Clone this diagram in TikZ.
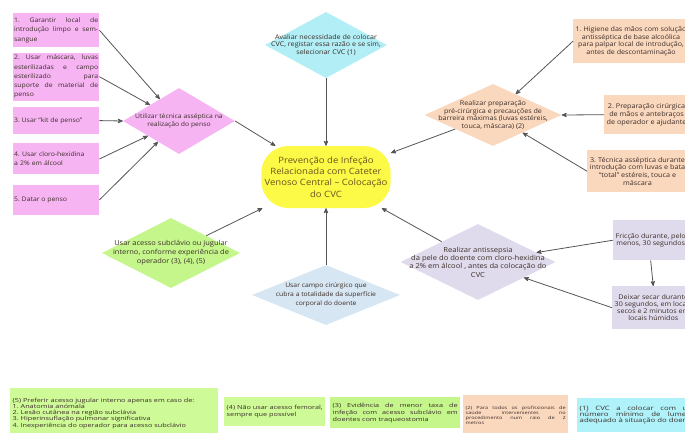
\documentclass[tikz,border=0pt]{standalone}
\usepackage{fontspec}
\setmainfont{Open Sans}[FakeStretch=1.1]
\newfontfamily\notafont{Open Sans}[FakeStretch=1.3]
\usetikzlibrary{arrows,shapes,positioning,calc}
\definecolor{rosa}{RGB}{246,180,243}
\definecolor{ciano}{RGB}{178,238,246}
\definecolor{amarelo}{RGB}{252,250,70}
\definecolor{pessego}{RGB}{250,216,190}
\definecolor{verde}{RGB}{196,246,140}
\definecolor{azul}{RGB}{214,230,242}
\definecolor{lilas}{RGB}{223,219,236}
\definecolor{notaverde}{RGB}{206,250,152}
\definecolor{notaciano}{RGB}{176,242,250}
\definecolor{seta}{RGB}{85,85,85}
\definecolor{texto}{RGB}{60,45,40}
\hyphenpenalty=10000
\frenchspacing
\tikzset{
    box/.style={rectangle,inner sep=2.5pt,text=texto,align=justify},
    cbox/.style={rectangle,inner sep=2.5pt,text=texto,align=center},
    dia/.style={diamond,inner sep=-6pt,text=texto,align=center},
    arr/.style={->,>=stealth',line width=0.8pt,draw=seta},
    esq/.style={box,fill=rosa,text width=84pt,inner xsep=1pt,font=\fontsize{6.25}{9.2}\selectfont},
    nota/.style={box,anchor=north west},
}

\begin{document}
\begin{tikzpicture}[x=1pt,y=-1pt]
    \useasboundingbox (0,0) rectangle (685,432);
    \clip (0,0) rectangle (685,432);
    % centro
    \node[rectangle,rounded corners=27pt,fill=amarelo,minimum width=121pt,minimum height=62pt,
          text={rgb,255:red,105;green,85;blue,30},align=center,font=\fontsize{8.7}{11.4}\selectfont]
          (cvc) at (326,177) {Prevenção de Infeção\\Relacionada com Cateter\\Venoso Central -- Colocação\\do CVC};
    % losangos
    \node[dia,fill=ciano,minimum width=122pt,minimum height=66pt,aspect=1.85,
          font=\fontsize{6.5}{7.3}\selectfont] (aval) at (326,45)
          {Avaliar necessidade de colocar\\CVC, registar essa razão e se sim,\\selecionar CVC (1)};
    \node[dia,fill=rosa,minimum width=112pt,minimum height=66pt,aspect=1.7,
          font=\fontsize{6.2}{7.3}\selectfont] (tec) at (179,121)
          {Utilizar técnica asséptica na\\realização do penso};
    \node[dia,fill=pessego,minimum width=137pt,minimum height=62pt,aspect=2.2,inner sep=-10pt,
          font=\fontsize{6.5}{7.7}\selectfont] (prep) at (493,115)
          {Realizar preparação\\pré-cirúrgica e precauções de\\barreira máximas (luvas estéreis,\\touca, máscara) (2)};
    \node[dia,fill=verde,minimum width=138pt,minimum height=70pt,aspect=1.97,inner sep=-8pt,
          font=\fontsize{6.8}{9}\selectfont] (acesso) at (171,253)
          {Usar acesso subclávio ou jugular\\interno, conforme experiência de\\operador (3), (4), (5)};
    \node[dia,fill=azul,minimum width=148pt,minimum height=60pt,aspect=2.47,inner sep=-8pt,
          font=\fontsize{6.2}{9}\selectfont] (campo) at (326,295)
          {Usar campo cirúrgico que\\cubra a totalidade da superfície\\corporal do doente};
    \node[dia,fill=lilas,minimum width=155pt,minimum height=76pt,aspect=2.04,inner sep=-14pt,
          font=\fontsize{6.9}{8.3}\selectfont] (antis) at (478,262)
          {Realizar antissepsia\\da pele do doente com cloro-hexidina\\a 2\% em álcool , antes da colocação do\\CVC};
    % caixas da esquerda
    \node[esq,minimum height=34pt,anchor=north west] (e1) at (13,13)
          {1. Garantir local de\linebreak introdução limpo e sem-\linebreak sangue};
    \node[esq,minimum height=48pt,below=5pt of e1] (e2)
          {2. Usar máscara, luvas\linebreak esterilizadas e campo\linebreak esterilizado para\linebreak suporte de material de penso};
    \node[esq,minimum height=27pt,below=6pt of e2] (e3)
          {3. Usar “kit de penso”};
    \node[esq,minimum height=31pt,below=9pt of e3,align=left] (e4)
          {4. Usar cloro-hexidina\\ a 2\% em álcool};
    \node[esq,minimum height=30pt,below=10pt of e4] (e5)
          {5. Datar o penso};
    % caixas da direita
    \node[cbox,fill=pessego,minimum height=44pt,anchor=north west,
          font=\fontsize{6.5}{7.6}\selectfont] (d1) at (573,19)
          {1. Higiene das mãos com solução\\antisséptica de base alcoólica\\para palpar local de introdução,\\antes de descontaminação};
    \node[cbox,fill=pessego,minimum height=39pt,anchor=north west,
          font=\fontsize{6.6}{7.6}\selectfont] (d2) at (604,95)
          {2. Preparação cirúrgica\\de mãos e antebraços\\de operador e ajudante};
    \node[cbox,fill=pessego,minimum height=42pt,anchor=north west,
          font=\fontsize{6.6}{7.6}\selectfont] (d3) at (587,150)
          {3. Técnica asséptica durante\\introdução com luvas e bata\\“total” estéreis, touca e\\máscara};
    \node[cbox,fill=lilas,minimum height=40pt,anchor=north west,
          font=\fontsize{6.5}{7}\selectfont] (f1) at (613,220)
          {Fricção durante, pelo\\menos, 30 segundos};
    \node[cbox,fill=lilas,minimum height=43pt,anchor=north west,
          font=\fontsize{6.5}{7}\selectfont] (f2) at (612,286)
          {Deixar secar durante\\30 segundos, em locais\\secos e 2 minutos em\\locais húmidos};
    % notas
    \node[nota,fill=notaverde,text width=203pt,minimum height=50pt,align=left,
          font=\notafont\fontsize{5.6}{6.2}\selectfont] (n5) at (10,388)
          {(5) Preferir acesso jugular interno apenas em caso de:\\1. Anatomia anómala\\2. Lesão cutânea na região subclávia\\3. Hiperinsuflação pulmonar significativa\\4. Inexperiência do operador para acesso subclávio};
    \node[nota,fill=notaverde,text width=96pt,minimum height=29pt,align=left,
          font=\notafont\fontsize{5.6}{7}\selectfont] (n4) at (224,397)
          {(4) Não usar acesso femoral,\\sempre que possível};
    \node[nota,fill=verde,text width=125pt,minimum height=31pt,
          font=\notafont\fontsize{5.6}{7}\selectfont] (n3) at (330,397)
          {(3) Evidência de menor taxa de infeção com acesso subclávio em doentes com traqueostomia};
    \node[nota,fill=pessego,text width=100pt,minimum height=40pt,
          font=\notafont\fontsize{4.3}{5.2}\selectfont] (n2) at (463,395)
          {(2) Para todos os profissionais de\linebreak saúde intervenientes no\linebreak procedimento num raio de 2\linebreak metros};
    \node[nota,fill=notaciano,text width=115pt,minimum height=34pt,
          font=\notafont\fontsize{6}{6}\selectfont] (n1) at (577,398)
          {(1) CVC a colocar com um número mínimo de lumens adequado à situação do doente};
    % setas
    \draw[arr] (e1.east) -- (tec);
    \draw[arr] (e2.east) -- (tec);
    \draw[arr] (e3.east) -- (tec.west);
    \draw[arr] (e4.east) -- (tec);
    \draw[arr] (e5.east) -- (tec);
    \draw[arr] (tec.east) -- (cvc);
    \draw[arr] (aval.south) -- (cvc.north);
    \draw[arr] (prep) -- (cvc);
    \draw[arr] (d1.west) -- (prep);
    \draw[arr] (d2.west) -- (prep.east);
    \draw[arr] (d3.west) -- (prep);
    \draw[arr] (acesso) -- (cvc);
    \draw[arr] (campo.north) -- (cvc.south);
    \draw[arr] (antis) -- (cvc);
    \draw[arr] (f1.west) -- (antis);
    \draw[arr] (f1.south) -- (f2.north);
    \draw[arr] (f2.west) -- (antis);
\end{tikzpicture}
\end{document}
